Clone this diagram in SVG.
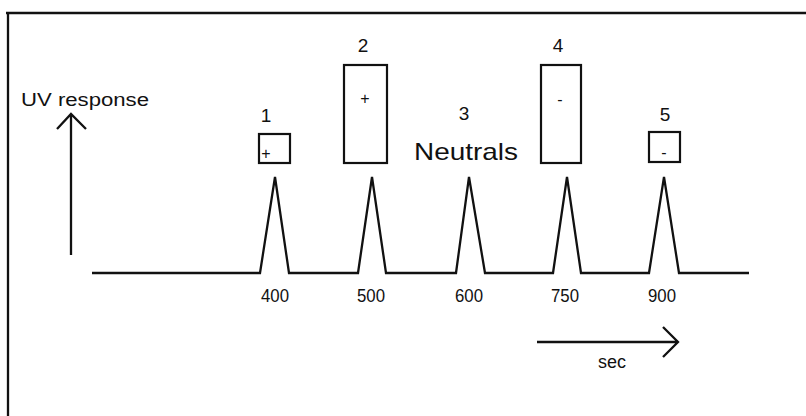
<svg xmlns="http://www.w3.org/2000/svg" width="806" height="416" viewBox="0 0 806 416">
<style>
  .ln { fill: none; stroke: #111; stroke-width: 2.3; stroke-linejoin: miter; stroke-linecap: butt; }
  .bx { fill: none; stroke: #111; stroke-width: 2.2; }
  .t { font-family: "Liberation Sans", Arial, sans-serif; fill: #111; }
  .num { font-size: 19px; text-anchor: middle; }
  .tick { font-size: 18px; }
  .sign { font-size: 16px; text-anchor: middle; }
</style>
<rect width="806" height="416" fill="#fff"/>
<g id="frame">
  <path class="ln" d="M6 13 H806 M8 13 V416"/>
</g>
<g id="connectors">
  <path class="ln" d="M92 273 H260 L275 177 L289 273 H358 L372 177 L386 273 H456 L469 177 L485 273 H553 L567 177 L581 273 H649 L664 177 L679 273 H749"/>
  <path class="ln" d="M71 255 V114 M57 129 L71 114 L86 129"/>
  <path class="ln" d="M537 342 H678 M663 327 L678 342 L663 357"/>
</g>
<g id="axis-y">
  <text class="t" x="21" y="106" font-size="18" textLength="128" lengthAdjust="spacingAndGlyphs">UV response</text>
</g>
<g id="axis-x">
  <text class="t" x="612" y="368" font-size="18" text-anchor="middle">sec</text>
</g>
<g id="peak1">
  <rect class="bx" x="259" y="134" width="31" height="29"/>
  <text class="t sign" x="266" y="159">+</text>
  <text class="t num" x="266" y="122">1</text>
  <text class="t tick" x="261" y="302" textLength="28" lengthAdjust="spacingAndGlyphs">400</text>
</g>
<g id="peak2">
  <rect class="bx" x="344" y="65" width="43" height="98"/>
  <text class="t sign" x="365" y="104">+</text>
  <text class="t num" x="363" y="52">2</text>
  <text class="t tick" x="357" y="302" textLength="28" lengthAdjust="spacingAndGlyphs">500</text>
</g>
<g id="peak3">
  <text class="t num" x="464" y="120">3</text>
  <text class="t" x="414" y="160" font-size="24" textLength="104" lengthAdjust="spacingAndGlyphs">Neutrals</text>
  <text class="t tick" x="455" y="302" textLength="28" lengthAdjust="spacingAndGlyphs">600</text>
</g>
<g id="peak4">
  <rect class="bx" x="541" y="65" width="40" height="98"/>
  <text class="t sign" x="560" y="105">-</text>
  <text class="t num" x="558" y="52">4</text>
  <text class="t tick" x="551" y="302" textLength="28" lengthAdjust="spacingAndGlyphs">750</text>
</g>
<g id="peak5">
  <rect class="bx" x="649" y="132" width="31" height="30"/>
  <text class="t sign" x="664" y="158">-</text>
  <text class="t num" x="665" y="121">5</text>
  <text class="t tick" x="648" y="302" textLength="28" lengthAdjust="spacingAndGlyphs">900</text>
</g>
</svg>
